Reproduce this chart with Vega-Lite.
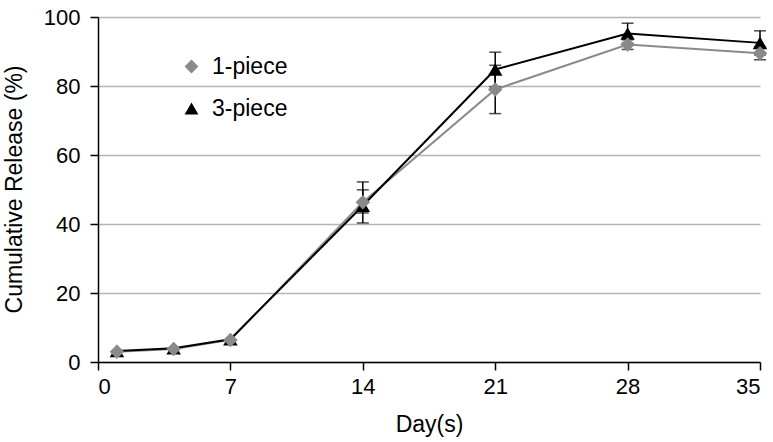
{
  "$schema": "https://vega.github.io/schema/vega-lite/v6.json",
  "width": 662,
  "height": 345,
  "autosize": {"type": "none"},
  "padding": {"left": 98, "top": 17, "right": 13, "bottom": 80},
  "background": "white",
  "config": {
    "font": "Liberation Sans",
    "view": {"stroke": null},
    "axis": {
      "domainColor": "black",
      "domainWidth": 1.5,
      "tickColor": "black",
      "tickWidth": 1.5,
      "tickSize": 8,
      "labelColor": "black",
      "labelFontSize": 22,
      "titleColor": "black",
      "titleFontSize": 23,
      "titleFontWeight": "normal"
    }
  },
  "data": {
    "values": [
      {"series": "3-piece", "day": 1, "value": 3.2, "lo": 3.2, "hi": 3.2},
      {"series": "3-piece", "day": 4, "value": 4.0, "lo": 4.0, "hi": 4.0},
      {"series": "3-piece", "day": 7, "value": 6.6, "lo": 6.6, "hi": 6.6},
      {"series": "3-piece", "day": 14, "value": 45.3, "lo": 43.2, "hi": 49.9},
      {"series": "3-piece", "day": 21, "value": 84.8, "lo": 79.8, "hi": 89.8},
      {"series": "3-piece", "day": 28, "value": 95.2, "lo": 92.4, "hi": 98.2},
      {"series": "3-piece", "day": 35, "value": 92.5, "lo": 89.0, "hi": 96.0},
      {"series": "1-piece", "day": 1, "value": 3.0, "lo": 3.0, "hi": 3.0},
      {"series": "1-piece", "day": 4, "value": 3.8, "lo": 3.8, "hi": 3.8},
      {"series": "1-piece", "day": 7, "value": 6.4, "lo": 6.4, "hi": 6.4},
      {"series": "1-piece", "day": 14, "value": 46.3, "lo": 40.3, "hi": 52.2},
      {"series": "1-piece", "day": 21, "value": 79.0, "lo": 72.0, "hi": 86.0},
      {"series": "1-piece", "day": 28, "value": 92.0, "lo": 90.6, "hi": 93.4},
      {"series": "1-piece", "day": 35, "value": 89.5, "lo": 87.6, "hi": 91.4}
    ]
  },
  "encoding": {
    "x": {
      "field": "day",
      "type": "quantitative",
      "title": "Day(s)",
      "scale": {"domain": [0, 35], "nice": false, "zero": false},
      "axis": {"values": [0, 7, 14, 21, 28, 35], "grid": false, "labelPadding": 6, "titleY": 51}
    }
  },
  "layer": [
    {
      "transform": [{"filter": "datum.hi > datum.lo"}],
      "mark": {"type": "rule", "color": "black", "strokeWidth": 1.5},
      "encoding": {
        "y": {
          "field": "lo",
          "type": "quantitative",
          "title": "Cumulative Release (%)",
          "scale": {"domain": [0, 100], "nice": false},
          "axis": {"values": [0, 20, 40, 60, 80, 100], "grid": true, "gridColor": "#b4b4b4", "gridWidth": 1.5, "labelPadding": 10, "titleX": -72, "titleY": 172}
        },
        "y2": {"field": "hi"}
      }
    },
    {
      "transform": [{"filter": "datum.hi > datum.lo"}],
      "mark": {"type": "tick", "color": "black", "orient": "horizontal", "size": 12, "thickness": 1.5},
      "encoding": {"y": {"field": "lo", "type": "quantitative"}}
    },
    {
      "transform": [{"filter": "datum.hi > datum.lo"}],
      "mark": {"type": "tick", "color": "black", "orient": "horizontal", "size": 12, "thickness": 1.5},
      "encoding": {"y": {"field": "hi", "type": "quantitative"}}
    },
    {
      "transform": [{"filter": "datum.series == '1-piece'"}],
      "mark": {"type": "line", "strokeWidth": 2, "color": "#8a8a8a"},
      "encoding": {"y": {"field": "value", "type": "quantitative"}}
    },
    {
      "transform": [{"filter": "datum.series == '3-piece'"}],
      "mark": {"type": "line", "strokeWidth": 2, "color": "black"},
      "encoding": {"y": {"field": "value", "type": "quantitative"}}
    },
    {
      "mark": {"type": "point", "filled": true, "opacity": 1},
      "encoding": {
        "y": {"field": "value", "type": "quantitative"},
        "size": {"value": 210},
        "color": {
          "field": "series",
          "type": "nominal",
          "scale": {"domain": ["1-piece", "3-piece"], "range": ["#8a8a8a", "#000000"]},
          "legend": {
            "title": null,
            "orient": "none",
            "legendX": 82,
            "legendY": 38,
            "padding": 0,
            "labelFontSize": 23,
            "labelColor": "black",
            "labelOffset": 9,
            "rowPadding": 18,
            "symbolSize": 190
          }
        },
        "shape": {
          "field": "series",
          "type": "nominal",
          "scale": {"domain": ["1-piece", "3-piece"], "range": ["diamond", "triangle-up"]}
        }
      }
    }
  ]
}
